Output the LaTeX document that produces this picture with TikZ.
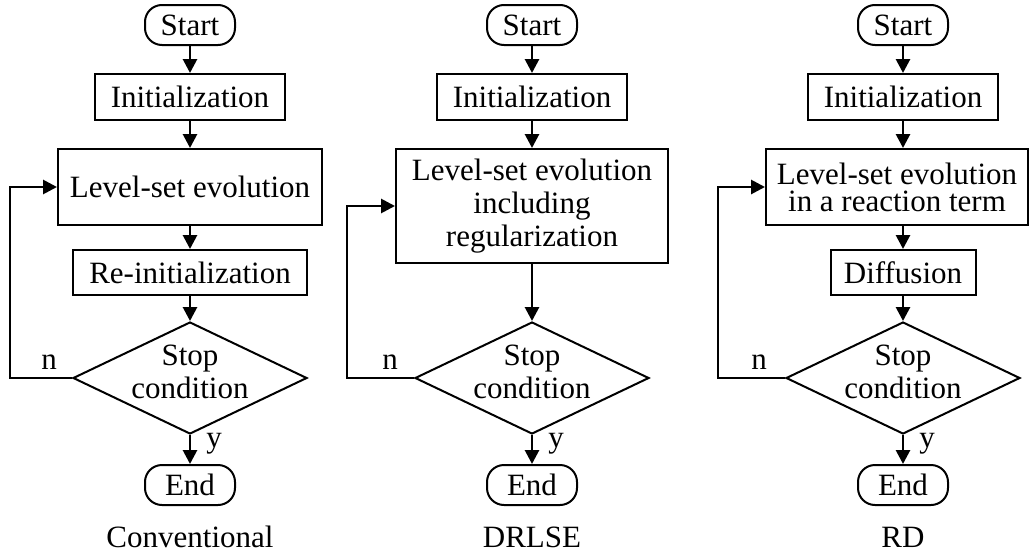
\documentclass[tikz,border=0pt]{standalone}
\usepackage{fontspec}
\setmainfont{Liberation Serif}
\usetikzlibrary{arrows.meta,shapes.geometric}

\tikzset{
  every node/.style={font=\fontsize{31}{33}\selectfont, inner sep=0pt},
  terminal/.style={draw, line width=2pt, rounded corners=17pt,
    minimum width=90pt, minimum height=40pt},
  process/.style={draw, line width=2pt, align=center},
  decision/.style={draw, line width=2pt, diamond,
    minimum width=234pt, minimum height=112pt},
  flow/.style={line width=2.8pt, -{Triangle[length=14pt,width=14pt]}},
}

\begin{document}
\begin{tikzpicture}[x=1pt,y=-1pt]
\useasboundingbox (0,0) rectangle (1030,554);

% ---------- Conventional ----------
\node[terminal] (s1) at (190,25) {Start};
\node[process, minimum width=190pt, minimum height=46pt] (i1) at (190,97) {Initialization};
\node[process, minimum width=264pt, minimum height=76pt] (l1) at (190,187) {Level-set evolution};
\node[process, minimum width=234pt, minimum height=45pt] (r1) at (190,272.5) {Re-initialization};
\node[decision] (d1) at (190,378) {};
\node[align=center] (t1) at (190,372) {Stop\\condition};
\node[terminal] (e1) at (190,485) {End};
\node (c1) at (190,537) {Conventional};
\node (n1) at (49,362) {n};
\node (y1) at (214,444) {y};
\coordinate (a1) at (10,378);
\coordinate (b1) at (10,187);

\draw[flow] (s1) -- (i1);
\draw[flow] (i1) -- (l1);
\draw[flow] (l1) -- (r1);
\draw[flow] (r1) -- (d1);
\draw[flow] (d1) -- (e1);
\draw[flow] (d1.west) -- (a1) -- (b1) -- (l1.west);

% ---------- DRLSE ----------
\node[terminal] (s2) at (532,25) {Start};
\node[process, minimum width=190pt, minimum height=46pt] (i2) at (532,97) {Initialization};
\node[process, minimum width=272pt, minimum height=114pt] (l2) at (532,206) {Level-set evolution\\including\\regularization};
\node[decision] (d2) at (532,378) {};
\node[align=center] (t2) at (532,372) {Stop\\condition};
\node[terminal] (e2) at (532,485) {End};
\node (c2) at (532,537) {DRLSE};
\node (n2) at (390,362) {n};
\node (y2) at (556,444) {y};
\coordinate (a2) at (347,378);
\coordinate (b2) at (347,206);

\draw[flow] (s2) -- (i2);
\draw[flow] (i2) -- (l2);
\draw[flow] (l2) -- (d2);
\draw[flow] (d2) -- (e2);
\draw[flow] (d2.west) -- (a2) -- (b2) -- (l2.west);

% ---------- RD ----------
\node[terminal] (s3) at (903,25) {Start};
\node[process, minimum width=190pt, minimum height=46pt] (i3) at (903,97) {Initialization};
\node[process, minimum width=262pt, minimum height=76pt,
  font=\fontsize{31}{27}\selectfont] (l3) at (897,187) {Level-set evolution\\in a reaction term};
\node[process, minimum width=145pt, minimum height=45pt] (f3) at (903,272.5) {Diffusion};
\node[decision] (d3) at (903,378) {};
\node[align=center] (t3) at (903,372) {Stop\\condition};
\node[terminal] (e3) at (903,485) {End};
\node (c3) at (903,537) {RD};
\node (n3) at (759,362) {n};
\node (y3) at (927,444) {y};
\coordinate (a3) at (718,378);
\coordinate (b3) at (718,187);

\draw[flow] (s3) -- (i3);
\draw[flow] (i3) -- (i3 |- l3.north);
\draw[flow] (f3 |- l3.south) -- (f3);
\draw[flow] (f3) -- (d3);
\draw[flow] (d3) -- (e3);
\draw[flow] (d3.west) -- (a3) -- (b3) -- (l3.west);
\end{tikzpicture}
\end{document}
